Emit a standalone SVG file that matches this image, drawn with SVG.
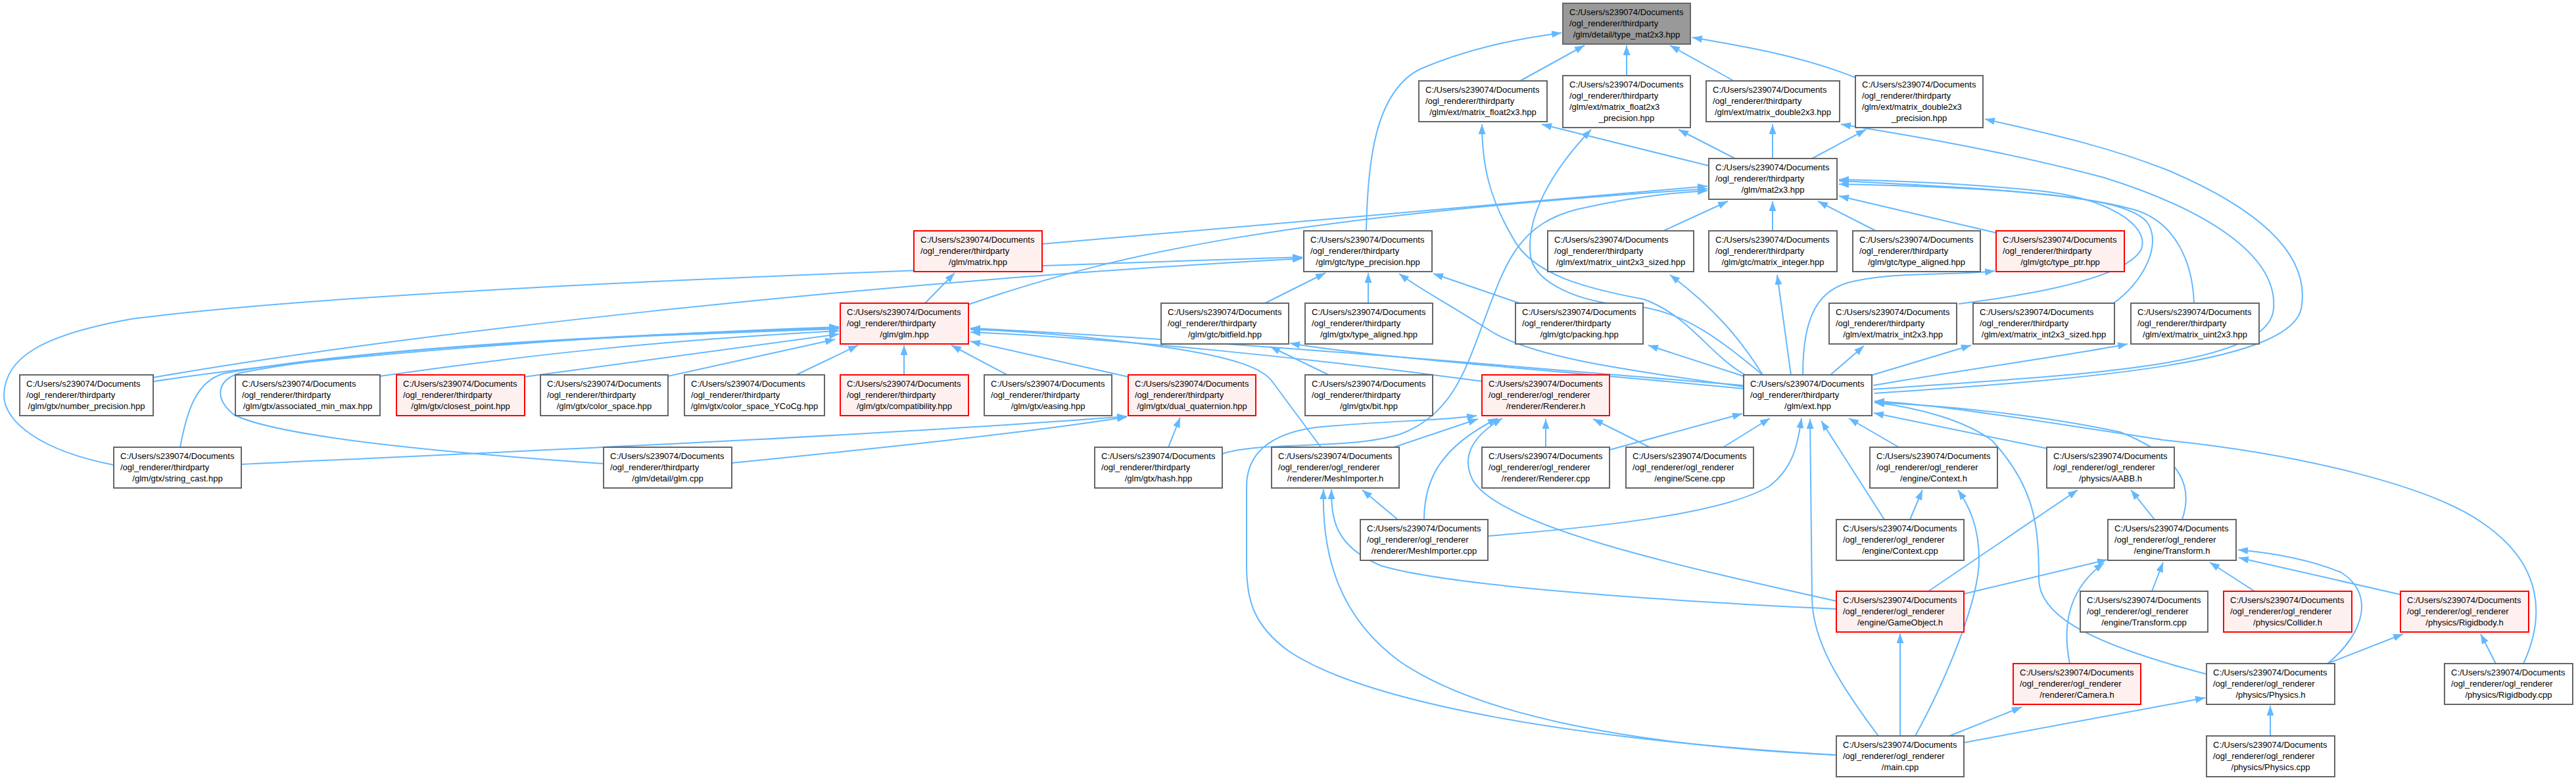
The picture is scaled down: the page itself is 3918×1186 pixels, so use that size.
<svg xmlns="http://www.w3.org/2000/svg" width="3918" height="1186" viewBox="0 0 3918 1186">
<style>
.t{font-family:"Liberation Sans",Arial,sans-serif;font-size:13px;fill:#000}
.c{text-anchor:middle}
.nd{fill:#fff;stroke:#666;stroke-width:2}
.rd{fill:#fff0f0;stroke:#f00;stroke-width:2}
.tp{fill:#999;stroke:#666;stroke-width:2}
.e{fill:none;stroke:#63b8ff;stroke-width:2;marker-end:url(#a)}
</style>
<defs>
<marker id="a" markerWidth="15" markerHeight="11" refX="15" refY="5.5" orient="auto" markerUnits="userSpaceOnUse"><path d="M0,0 L15,5.5 L0,11 z" fill="#63b8ff"/></marker>
</defs>
<rect width="3918" height="1186" fill="#fff"/>
<g id="edges">
<path class="e" d="M2312,123 L2410,69"/>
<path class="e" d="M2474,115 L2474,69"/>
<path class="e" d="M2637,123 L2540,69"/>
<path class="e" d="M2822,118 C2740,85 2650,70 2574,57"/>
<path class="e" d="M2078,351 C2080,250 2090,140 2160,105 C2230,75 2300,60 2375,50"/>
<path class="e" d="M2599,252 L2345,189"/>
<path class="e" d="M2656,571 C2600,540 2570,480 2500,455 C2420,440 2330,420 2300,360 C2265,300 2254,250 2254,189"/>
<path class="e" d="M2639,241 L2553,197"/>
<path class="e" d="M2681,570 C2620,520 2560,470 2480,465 C2400,460 2335,430 2328,390 C2320,330 2360,260 2420,197"/>
<path class="e" d="M2696,241 L2696,189"/>
<path class="e" d="M2849,592 C3150,570 3450,560 3458,470 C3465,390 3360,320 3200,270 C3050,230 2900,205 2800,189"/>
<path class="e" d="M2756,241 L2838,197"/>
<path class="e" d="M2851,598 C3200,575 3480,550 3500,470 C3515,390 3440,320 3300,260 C3200,220 3100,200 3019,181"/>
<path class="e" d="M1585,371 L2597,283"/>
<path class="e" d="M1473,463 C1700,385 1950,330 2597,287"/>
<path class="e" d="M1859,690 C1920,670 2050,685 2130,660 C2210,630 2230,560 2260,480 C2290,400 2310,340 2400,318 C2480,300 2540,293 2597,290"/>
<path class="e" d="M2793,1148 C2400,1125 2080,1070 1960,990 C1905,950 1896,910 1896,860 L1896,740 C1896,690 1930,660 2000,650 C2100,640 2190,640 2246,632"/>
<path class="e" d="M2530,351 L2628,306"/>
<path class="e" d="M2696,351 L2696,306"/>
<path class="e" d="M2853,351 L2765,306"/>
<path class="e" d="M3036,354 L2797,298"/>
<path class="e" d="M2979,462 C3106,446 3234,421 3257,379 C3270,340 3200,300 3100,290 C3000,280 2900,275 2797,273"/>
<path class="e" d="M3213,462 C3260,430 3290,370 3265,337 C3230,300 3100,290 2797,275"/>
<path class="e" d="M3337,461 C3335,400 3310,340 3250,320 C3150,290 2950,283 2797,280"/>
<path class="e" d="M1407,461 L1452,415"/>
<path class="e" d="M233,574 C600,510 1300,430 1981,393"/>
<path class="e" d="M173,707 C60,685 5,640 6,600 C8,545 60,510 200,485 C500,445 1200,415 1981,391"/>
<path class="e" d="M1924,461 L2016,415"/>
<path class="e" d="M2081,461 L2081,415"/>
<path class="e" d="M2652,588 C2450,560 2320,540 2262,500 C2200,460 2160,440 2128,416"/>
<path class="e" d="M2311,461 L2180,416"/>
<path class="e" d="M233,580 C500,540 900,510 1276,497"/>
<path class="e" d="M274,680 C285,620 300,580 340,568 C550,530 900,510 1276,499"/>
<path class="e" d="M918,705 C700,690 420,665 355,630 C325,605 330,578 365,567 C550,530 900,512 1276,500"/>
<path class="e" d="M578,572 C800,540 1000,518 1276,503"/>
<path class="e" d="M798,573 L1276,508"/>
<path class="e" d="M1016,572 L1270,516"/>
<path class="e" d="M1211,570 L1305,525"/>
<path class="e" d="M1375,570 L1375,525"/>
<path class="e" d="M1532,570 L1447,525"/>
<path class="e" d="M1716,573 L1476,519"/>
<path class="e" d="M2009,680 L1935,580 C1920,560 1880,545 1787,530 C1650,510 1550,503 1476,501"/>
<path class="e" d="M2652,586 C2400,566 1900,520 1476,499"/>
<path class="e" d="M2256,580 C2000,545 1700,515 1476,505"/>
<path class="e" d="M2652,591 C2400,566 2100,545 1962,522"/>
<path class="e" d="M2021,570 L1932,527"/>
<path class="e" d="M367,706 C700,690 1300,665 1714,633"/>
<path class="e" d="M1113,704 C1300,685 1550,660 1714,634"/>
<path class="e" d="M1777,680 L1795,635"/>
<path class="e" d="M2120,680 L2248,637"/>
<path class="e" d="M2166,790 C2166,730 2190,680 2278,636"/>
<path class="e" d="M2793,914 C2550,860 2280,800 2240,730 C2220,690 2245,660 2285,636"/>
<path class="e" d="M2351,680 L2351,637"/>
<path class="e" d="M2509,680 L2423,637"/>
<path class="e" d="M2448,684 L2650,629"/>
<path class="e" d="M2621,680 L2692,636"/>
<path class="e" d="M2263,815 C2450,800 2620,780 2690,740 C2730,710 2735,670 2740,636"/>
<path class="e" d="M2857,1119 C2790,1030 2757,970 2756,910 L2753,637"/>
<path class="e" d="M2866,790 L2770,640"/>
<path class="e" d="M2888,680 L2812,636"/>
<path class="e" d="M3319,790 C3335,742 3322,696 3225,657 C3100,630 2950,616 2851,612"/>
<path class="e" d="M3114,682 L2850,628"/>
<path class="e" d="M3356,1025 C3160,974 3101,930 3101,880 C3101,800 3095,740 3030,670 C2990,640 2920,620 2851,612"/>
<path class="e" d="M3838,1009 C3870,940 3870,860 3777,796 C3700,740 3500,690 3290,669 C3100,640 2950,615 2851,610"/>
<path class="e" d="M2681,570 C2650,520 2610,470 2540,418"/>
<path class="e" d="M2724,570 L2703,418"/>
<path class="e" d="M2742,570 C2742,490 2760,445 2810,430 C2880,412 2960,420 3034,412"/>
<path class="e" d="M2652,572 L2507,525"/>
<path class="e" d="M2784,570 L2835,526"/>
<path class="e" d="M2845,571 L2998,525"/>
<path class="e" d="M2849,586 C3000,560 3150,540 3236,523"/>
<path class="e" d="M2905,790 L2924,745"/>
<path class="e" d="M2913,1119 C2965,1024 3010,909 3010,851 C3010,800 2995,770 2978,745"/>
<path class="e" d="M2933,899 L3160,745"/>
<path class="e" d="M3277,790 L3241,745"/>
<path class="e" d="M2987,903 L3205,851"/>
<path class="e" d="M3273,899 L3290,855"/>
<path class="e" d="M3429,899 L3361,855"/>
<path class="e" d="M3651,904 L3405,848"/>
<path class="e" d="M3540,1009 C3600,960 3610,900 3560,870 C3510,850 3450,840 3404,836"/>
<path class="e" d="M3148,1009 C3138,960 3140,900 3200,856"/>
<path class="e" d="M3540,1009 L3655,964"/>
<path class="e" d="M3796,1009 L3773,964"/>
<path class="e" d="M3453,1119 L3453,1073"/>
<path class="e" d="M2988,1129 L3354,1061"/>
<path class="e" d="M2965,1119 L3075,1075"/>
<path class="e" d="M2890,1119 L2890,963"/>
<path class="e" d="M2793,1148 C2500,1135 2250,1090 2128,1005 C2040,940 2010,850 2013,744"/>
<path class="e" d="M2793,926 C2500,912 2200,890 2100,860 C2030,830 2025,790 2025,744"/>
<path class="e" d="M2126,790 L2072,745"/>
</g>
<g id="n0"><rect class="tp" x="2377" y="5" width="194" height="62"/><text class="t" x="2387" y="23">C:/Users/s239074/Documents</text><text class="t" x="2387" y="40">/ogl_renderer/thirdparty</text><text class="t c" x="2474" y="57">/glm/detail/type_mat2x3.hpp</text></g>
<g id="n1"><rect class="nd" x="2158" y="123" width="195" height="62"/><text class="t" x="2168" y="141">C:/Users/s239074/Documents</text><text class="t" x="2168" y="158">/ogl_renderer/thirdparty</text><text class="t c" x="2255.5" y="175">/glm/ext/matrix_float2x3.hpp</text></g>
<g id="n2"><rect class="nd" x="2377" y="115" width="194" height="79"/><text class="t" x="2387" y="133">C:/Users/s239074/Documents</text><text class="t" x="2387" y="150">/ogl_renderer/thirdparty</text><text class="t" x="2387" y="167">/glm/ext/matrix_float2x3</text><text class="t c" x="2474" y="184">_precision.hpp</text></g>
<g id="n3"><rect class="nd" x="2595" y="123" width="203" height="62"/><text class="t" x="2605" y="141">C:/Users/s239074/Documents</text><text class="t" x="2605" y="158">/ogl_renderer/thirdparty</text><text class="t c" x="2696.5" y="175">/glm/ext/matrix_double2x3.hpp</text></g>
<g id="n4"><rect class="nd" x="2822" y="115" width="194" height="79"/><text class="t" x="2832" y="133">C:/Users/s239074/Documents</text><text class="t" x="2832" y="150">/ogl_renderer/thirdparty</text><text class="t" x="2832" y="167">/glm/ext/matrix_double2x3</text><text class="t c" x="2919" y="184">_precision.hpp</text></g>
<g id="n5"><rect class="nd" x="2599" y="241" width="195" height="62"/><text class="t" x="2609" y="259">C:/Users/s239074/Documents</text><text class="t" x="2609" y="276">/ogl_renderer/thirdparty</text><text class="t c" x="2696.5" y="293">/glm/mat2x3.hpp</text></g>
<g id="n6"><rect class="rd" x="1390" y="351" width="195" height="62"/><text class="t" x="1400" y="369">C:/Users/s239074/Documents</text><text class="t" x="1400" y="386">/ogl_renderer/thirdparty</text><text class="t c" x="1487.5" y="403">/glm/matrix.hpp</text></g>
<g id="n7"><rect class="nd" x="1983" y="351" width="195" height="62"/><text class="t" x="1993" y="369">C:/Users/s239074/Documents</text><text class="t" x="1993" y="386">/ogl_renderer/thirdparty</text><text class="t c" x="2080.5" y="403">/glm/gtc/type_precision.hpp</text></g>
<g id="n8"><rect class="nd" x="2354" y="351" width="222" height="62"/><text class="t" x="2364" y="369">C:/Users/s239074/Documents</text><text class="t" x="2364" y="386">/ogl_renderer/thirdparty</text><text class="t c" x="2465" y="403">/glm/ext/matrix_uint2x3_sized.hpp</text></g>
<g id="n9"><rect class="nd" x="2599" y="351" width="195" height="62"/><text class="t" x="2609" y="369">C:/Users/s239074/Documents</text><text class="t" x="2609" y="386">/ogl_renderer/thirdparty</text><text class="t c" x="2696.5" y="403">/glm/gtc/matrix_integer.hpp</text></g>
<g id="n10"><rect class="nd" x="2818" y="351" width="194" height="62"/><text class="t" x="2828" y="369">C:/Users/s239074/Documents</text><text class="t" x="2828" y="386">/ogl_renderer/thirdparty</text><text class="t c" x="2915" y="403">/glm/gtc/type_aligned.hpp</text></g>
<g id="n11"><rect class="rd" x="3036" y="351" width="195" height="62"/><text class="t" x="3046" y="369">C:/Users/s239074/Documents</text><text class="t" x="3046" y="386">/ogl_renderer/thirdparty</text><text class="t c" x="3133.5" y="403">/glm/gtc/type_ptr.hpp</text></g>
<g id="n12"><rect class="rd" x="1278" y="461" width="195" height="62"/><text class="t" x="1288" y="479">C:/Users/s239074/Documents</text><text class="t" x="1288" y="496">/ogl_renderer/thirdparty</text><text class="t c" x="1375.5" y="513">/glm/glm.hpp</text></g>
<g id="n13"><rect class="nd" x="1766" y="461" width="194" height="62"/><text class="t" x="1776" y="479">C:/Users/s239074/Documents</text><text class="t" x="1776" y="496">/ogl_renderer/thirdparty</text><text class="t c" x="1863" y="513">/glm/gtc/bitfield.hpp</text></g>
<g id="n14"><rect class="nd" x="1985" y="461" width="194" height="62"/><text class="t" x="1995" y="479">C:/Users/s239074/Documents</text><text class="t" x="1995" y="496">/ogl_renderer/thirdparty</text><text class="t c" x="2082" y="513">/glm/gtx/type_aligned.hpp</text></g>
<g id="n15"><rect class="nd" x="2305" y="461" width="194" height="62"/><text class="t" x="2315" y="479">C:/Users/s239074/Documents</text><text class="t" x="2315" y="496">/ogl_renderer/thirdparty</text><text class="t c" x="2402" y="513">/glm/gtc/packing.hpp</text></g>
<g id="n16"><rect class="nd" x="2782" y="461" width="194" height="62"/><text class="t" x="2792" y="479">C:/Users/s239074/Documents</text><text class="t" x="2792" y="496">/ogl_renderer/thirdparty</text><text class="t c" x="2879" y="513">/glm/ext/matrix_int2x3.hpp</text></g>
<g id="n17"><rect class="nd" x="3001" y="461" width="215" height="62"/><text class="t" x="3011" y="479">C:/Users/s239074/Documents</text><text class="t" x="3011" y="496">/ogl_renderer/thirdparty</text><text class="t c" x="3108.5" y="513">/glm/ext/matrix_int2x3_sized.hpp</text></g>
<g id="n18"><rect class="nd" x="3241" y="461" width="195" height="62"/><text class="t" x="3251" y="479">C:/Users/s239074/Documents</text><text class="t" x="3251" y="496">/ogl_renderer/thirdparty</text><text class="t c" x="3338.5" y="513">/glm/ext/matrix_uint2x3.hpp</text></g>
<g id="n19"><rect class="nd" x="30" y="570" width="203" height="62"/><text class="t" x="40" y="588">C:/Users/s239074/Documents</text><text class="t" x="40" y="605">/ogl_renderer/thirdparty</text><text class="t c" x="131.5" y="622">/glm/gtx/number_precision.hpp</text></g>
<g id="n20"><rect class="nd" x="358" y="570" width="220" height="62"/><text class="t" x="368" y="588">C:/Users/s239074/Documents</text><text class="t" x="368" y="605">/ogl_renderer/thirdparty</text><text class="t c" x="468" y="622">/glm/gtx/associated_min_max.hpp</text></g>
<g id="n21"><rect class="rd" x="603" y="570" width="195" height="62"/><text class="t" x="613" y="588">C:/Users/s239074/Documents</text><text class="t" x="613" y="605">/ogl_renderer/thirdparty</text><text class="t c" x="700.5" y="622">/glm/gtx/closest_point.hpp</text></g>
<g id="n22"><rect class="nd" x="822" y="570" width="194" height="62"/><text class="t" x="832" y="588">C:/Users/s239074/Documents</text><text class="t" x="832" y="605">/ogl_renderer/thirdparty</text><text class="t c" x="919" y="622">/glm/gtx/color_space.hpp</text></g>
<g id="n23"><rect class="nd" x="1041" y="570" width="213" height="62"/><text class="t" x="1051" y="588">C:/Users/s239074/Documents</text><text class="t" x="1051" y="605">/ogl_renderer/thirdparty</text><text class="t c" x="1147.5" y="622">/glm/gtx/color_space_YCoCg.hpp</text></g>
<g id="n24"><rect class="rd" x="1278" y="570" width="195" height="62"/><text class="t" x="1288" y="588">C:/Users/s239074/Documents</text><text class="t" x="1288" y="605">/ogl_renderer/thirdparty</text><text class="t c" x="1375.5" y="622">/glm/gtx/compatibility.hpp</text></g>
<g id="n25"><rect class="nd" x="1497" y="570" width="194" height="62"/><text class="t" x="1507" y="588">C:/Users/s239074/Documents</text><text class="t" x="1507" y="605">/ogl_renderer/thirdparty</text><text class="t c" x="1594" y="622">/glm/gtx/easing.hpp</text></g>
<g id="n26"><rect class="rd" x="1716" y="570" width="194" height="62"/><text class="t" x="1726" y="588">C:/Users/s239074/Documents</text><text class="t" x="1726" y="605">/ogl_renderer/thirdparty</text><text class="t c" x="1813" y="622">/glm/gtx/dual_quaternion.hpp</text></g>
<g id="n27"><rect class="nd" x="1985" y="570" width="194" height="62"/><text class="t" x="1995" y="588">C:/Users/s239074/Documents</text><text class="t" x="1995" y="605">/ogl_renderer/thirdparty</text><text class="t c" x="2082" y="622">/glm/gtx/bit.hpp</text></g>
<g id="n28"><rect class="rd" x="2254" y="570" width="194" height="62"/><text class="t" x="2264" y="588">C:/Users/s239074/Documents</text><text class="t" x="2264" y="605">/ogl_renderer/ogl_renderer</text><text class="t c" x="2351" y="622">/renderer/Renderer.h</text></g>
<g id="n29"><rect class="nd" x="2652" y="570" width="195" height="62"/><text class="t" x="2662" y="588">C:/Users/s239074/Documents</text><text class="t" x="2662" y="605">/ogl_renderer/thirdparty</text><text class="t c" x="2749.5" y="622">/glm/ext.hpp</text></g>
<g id="n30"><rect class="nd" x="173" y="680" width="194" height="62"/><text class="t" x="183" y="698">C:/Users/s239074/Documents</text><text class="t" x="183" y="715">/ogl_renderer/thirdparty</text><text class="t c" x="270" y="732">/glm/gtx/string_cast.hpp</text></g>
<g id="n31"><rect class="nd" x="918" y="680" width="195" height="62"/><text class="t" x="928" y="698">C:/Users/s239074/Documents</text><text class="t" x="928" y="715">/ogl_renderer/thirdparty</text><text class="t c" x="1015.5" y="732">/glm/detail/glm.cpp</text></g>
<g id="n32"><rect class="nd" x="1665" y="680" width="194" height="62"/><text class="t" x="1675" y="698">C:/Users/s239074/Documents</text><text class="t" x="1675" y="715">/ogl_renderer/thirdparty</text><text class="t c" x="1762" y="732">/glm/gtx/hash.hpp</text></g>
<g id="n33"><rect class="nd" x="1934" y="680" width="194" height="62"/><text class="t" x="1944" y="698">C:/Users/s239074/Documents</text><text class="t" x="1944" y="715">/ogl_renderer/ogl_renderer</text><text class="t c" x="2031" y="732">/renderer/MeshImporter.h</text></g>
<g id="n34"><rect class="nd" x="2254" y="680" width="194" height="62"/><text class="t" x="2264" y="698">C:/Users/s239074/Documents</text><text class="t" x="2264" y="715">/ogl_renderer/ogl_renderer</text><text class="t c" x="2351" y="732">/renderer/Renderer.cpp</text></g>
<g id="n35"><rect class="nd" x="2473" y="680" width="194" height="62"/><text class="t" x="2483" y="698">C:/Users/s239074/Documents</text><text class="t" x="2483" y="715">/ogl_renderer/ogl_renderer</text><text class="t c" x="2570" y="732">/engine/Scene.cpp</text></g>
<g id="n36"><rect class="nd" x="2844" y="680" width="194" height="62"/><text class="t" x="2854" y="698">C:/Users/s239074/Documents</text><text class="t" x="2854" y="715">/ogl_renderer/ogl_renderer</text><text class="t c" x="2941" y="732">/engine/Context.h</text></g>
<g id="n37"><rect class="nd" x="3113" y="680" width="194" height="62"/><text class="t" x="3123" y="698">C:/Users/s239074/Documents</text><text class="t" x="3123" y="715">/ogl_renderer/ogl_renderer</text><text class="t c" x="3210" y="732">/physics/AABB.h</text></g>
<g id="n38"><rect class="nd" x="2069" y="790" width="194" height="62"/><text class="t" x="2079" y="808">C:/Users/s239074/Documents</text><text class="t" x="2079" y="825">/ogl_renderer/ogl_renderer</text><text class="t c" x="2166" y="842">/renderer/MeshImporter.cpp</text></g>
<g id="n39"><rect class="nd" x="2793" y="790" width="194" height="62"/><text class="t" x="2803" y="808">C:/Users/s239074/Documents</text><text class="t" x="2803" y="825">/ogl_renderer/ogl_renderer</text><text class="t c" x="2890" y="842">/engine/Context.cpp</text></g>
<g id="n40"><rect class="nd" x="3206" y="790" width="195" height="62"/><text class="t" x="3216" y="808">C:/Users/s239074/Documents</text><text class="t" x="3216" y="825">/ogl_renderer/ogl_renderer</text><text class="t c" x="3303.5" y="842">/engine/Transform.h</text></g>
<g id="n41"><rect class="rd" x="2793" y="899" width="194" height="62"/><text class="t" x="2803" y="917">C:/Users/s239074/Documents</text><text class="t" x="2803" y="934">/ogl_renderer/ogl_renderer</text><text class="t c" x="2890" y="951">/engine/GameObject.h</text></g>
<g id="n42"><rect class="nd" x="3164" y="899" width="194" height="62"/><text class="t" x="3174" y="917">C:/Users/s239074/Documents</text><text class="t" x="3174" y="934">/ogl_renderer/ogl_renderer</text><text class="t c" x="3261" y="951">/engine/Transform.cpp</text></g>
<g id="n43"><rect class="rd" x="3382" y="899" width="195" height="62"/><text class="t" x="3392" y="917">C:/Users/s239074/Documents</text><text class="t" x="3392" y="934">/ogl_renderer/ogl_renderer</text><text class="t c" x="3479.5" y="951">/physics/Collider.h</text></g>
<g id="n44"><rect class="rd" x="3651" y="899" width="195" height="62"/><text class="t" x="3661" y="917">C:/Users/s239074/Documents</text><text class="t" x="3661" y="934">/ogl_renderer/ogl_renderer</text><text class="t c" x="3748.5" y="951">/physics/Rigidbody.h</text></g>
<g id="n45"><rect class="rd" x="3062" y="1009" width="194" height="62"/><text class="t" x="3072" y="1027">C:/Users/s239074/Documents</text><text class="t" x="3072" y="1044">/ogl_renderer/ogl_renderer</text><text class="t c" x="3159" y="1061">/renderer/Camera.h</text></g>
<g id="n46"><rect class="nd" x="3356" y="1009" width="195" height="62"/><text class="t" x="3366" y="1027">C:/Users/s239074/Documents</text><text class="t" x="3366" y="1044">/ogl_renderer/ogl_renderer</text><text class="t c" x="3453.5" y="1061">/physics/Physics.h</text></g>
<g id="n47"><rect class="nd" x="3718" y="1009" width="195" height="62"/><text class="t" x="3728" y="1027">C:/Users/s239074/Documents</text><text class="t" x="3728" y="1044">/ogl_renderer/ogl_renderer</text><text class="t c" x="3815.5" y="1061">/physics/Rigidbody.cpp</text></g>
<g id="n48"><rect class="nd" x="2793" y="1119" width="194" height="62"/><text class="t" x="2803" y="1137">C:/Users/s239074/Documents</text><text class="t" x="2803" y="1154">/ogl_renderer/ogl_renderer</text><text class="t c" x="2890" y="1171">/main.cpp</text></g>
<g id="n49"><rect class="nd" x="3356" y="1119" width="195" height="62"/><text class="t" x="3366" y="1137">C:/Users/s239074/Documents</text><text class="t" x="3366" y="1154">/ogl_renderer/ogl_renderer</text><text class="t c" x="3453.5" y="1171">/physics/Physics.cpp</text></g>
</svg>
